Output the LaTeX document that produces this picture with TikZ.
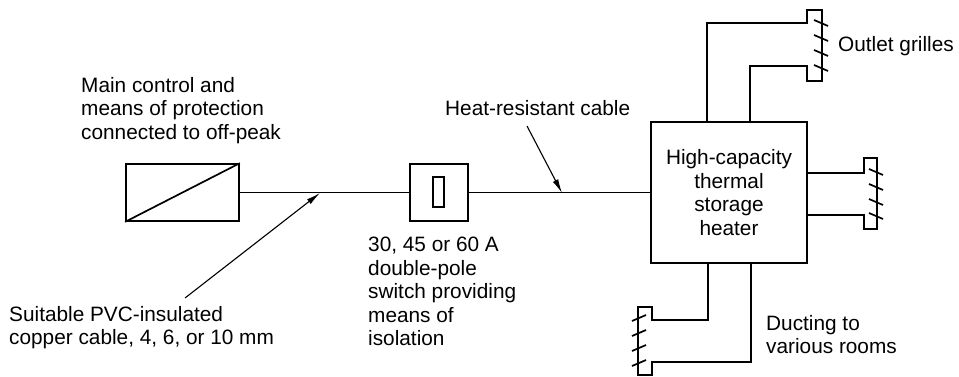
\documentclass[tikz,border=0pt]{standalone}
\usepackage{tikz}
\usepackage{fontspec}
\setmainfont{Liberation Sans}
\usetikzlibrary{positioning, arrows.meta}
\tikzset{
  unitbox/.style={draw, line width=1.7pt, minimum width=#1, inner sep=0pt},
  duct/.style={line width=1.7pt},
  leader/.style={line width=1.1pt, -{Latex[length=14pt,width=6pt]}},
  caption/.style={align=left, anchor=north west, inner sep=0pt, font=\fontsize{20.8}{23.5}\selectfont},
}
\begin{document}
\begin{tikzpicture}[x=1pt, y=-1pt, line join=miter]
    \useasboundingbox (0,0) rectangle (959,377);
    % units on the supply line
    \node[unitbox=113pt, minimum height=57pt] (ctrl) at (182.5,192.5) {};
    \node[unitbox=58pt, minimum height=57pt] (switch) at (439,192.5) {};
    \node[unitbox=11pt, minimum height=30pt] (slot) at (438.5,192) {};
    \node[unitbox=156pt, minimum height=141pt, align=center, font=\fontsize{20.8}{23.5}\selectfont] (heater) at (729,192.5) {High-capacity\\thermal\\storage\\heater};
    \draw[duct] (ctrl.south west) -- (ctrl.north east);
    \draw[duct] (ctrl.east) -- (switch.west);
    \draw[duct] (switch.east) -- (heater.west);
    % ducts and grilles
    \draw[duct] (707,123) -- (707,23) -- (807,23) -- (807,10) -- (822,10) -- (822,81) -- (807,81) -- (807,66) -- (750,66) -- (750,123);
    \draw[duct] (807,173) -- (864,173) -- (864,158) -- (877,158) -- (877,229) -- (864,229) -- (864,215) -- (807,215);
    \draw[duct] (708,263) -- (708,320) -- (652,320) -- (652,307) -- (638,307) -- (638,375) -- (652,375) -- (652,362) -- (751,362) -- (751,263);
    % grille bars
    \foreach \y in {23,38,53,68} {
      \draw[duct] (814,\y-3) -- (828,\y+3);
    }
    \foreach \y in {172,187,202,216} {
      \draw[duct] (869,\y-3) -- (883,\y+3);
    }
    \foreach \y in {318,333,348,363} {
      \draw[duct] (632,\y+3) -- (646,\y-3);
    }
    % labels
    \node[caption] (mainlabel) at (81,77) {Main control and\\means of protection\\connected to off-peak};
    \node[caption] (pvclabel) at (9,306) {Suitable PVC-insulated\\copper cable, 4, 6, or 10 mm};
    \node[caption] (switchlabel) at (368,237) {30, 45 or 60 A\\double-pole\\switch providing\\means of\\isolation};
    \node[caption] (cablelabel) at (445,100) {Heat-resistant cable};
    \node[caption] (outletlabel) at (838,36) {Outlet grilles};
    \node[caption] (ductlabel) at (766,315) {Ducting to\\various rooms};
    % leaders
    \coordinate (pvcend) at (185,298);
    \coordinate (pvctip) at (320,193);
    \coordinate (cablestart) at (527,126);
    \coordinate (cabletip) at (562,193);
    \draw[leader] (pvcend) -- (pvctip);
    \draw[leader] (cablestart) -- (cabletip);
\end{tikzpicture}
\end{document}
